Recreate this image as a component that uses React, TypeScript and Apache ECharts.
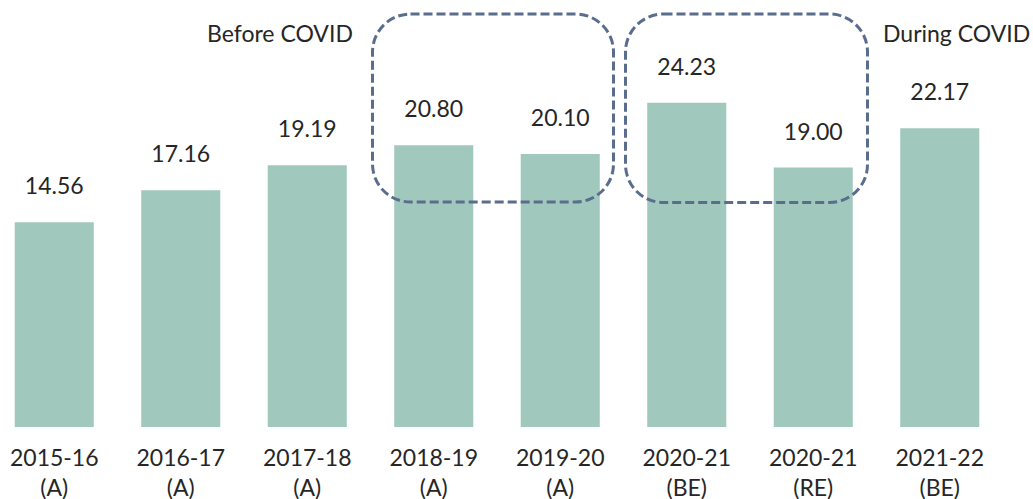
import React, { useEffect, useRef } from "react";
import * as echarts from "echarts";

const CATEGORIES = [
  "2015-16\n(A)",
  "2016-17\n(A)",
  "2017-18\n(A)",
  "2018-19\n(A)",
  "2019-20\n(A)",
  "2020-21\n(BE)",
  "2020-21\n(RE)",
  "2021-22\n(BE)",
];
const VALUES = [14.56, 17.16, 19.19, 20.8, 20.1, 24.23, 19.0, 22.17];
const GROUP_LABELS = ["Before COVID", "During COVID"];

const Y_MIN = -2;
const Y_MAX = 26;
const BAR_COLOR = "#a0c8bd";
const TEXT_COLOR = "#262626";
const BOX_COLOR = "#5a6d8d";
const FONT = "Lato";
const SHIFT = 9; // container is offset left by this amount

export default function App() {
  const ref = useRef<HTMLDivElement>(null);
  useEffect(() => {
    if (!ref.current) return;
    const chart = echarts.init(ref.current, undefined, { renderer: "svg" });
    chart.setOption({
      animation: false,
      backgroundColor: "#ffffff",
      grid: {
        left: 0,
        right: 30,
        top: 81,
        bottom: 72,
        containLabel: false,
        outerBoundsMode: "none",
      },
      xAxis: {
        type: "category",
        data: CATEGORIES,
        axisLine: { show: false },
        axisTick: { show: false },
        axisLabel: {
          color: TEXT_COLOR,
          fontFamily: FONT,
          fontSize: 23,
          lineHeight: 30,
          margin: 15,
          interval: 0,
        },
      },
      yAxis: {
        type: "value",
        min: Y_MIN,
        max: Y_MAX,
        show: false,
        splitLine: { show: false },
      },
      series: [
        {
          type: "custom",
          z: 2,
          data: VALUES.map((v, i) => [i, v]),
          renderItem: (params: any, api: any) => {
            const xv = api.value(0);
            const yv = api.value(1);
            const top = api.coord([xv, yv]);
            const base = api.coord([xv, Y_MIN]);
            const w = api.size([1, 0])[0] * 0.625;
            return {
              type: "group",
              children: [
                {
                  type: "rect",
                  shape: { x: top[0] - w / 2, y: top[1], width: w, height: base[1] - top[1] },
                  style: { fill: BAR_COLOR },
                },
                {
                  type: "text",
                  x: top[0],
                  y: top[1] - 37,
                  style: {
                    text: Number(yv).toFixed(2),
                    fill: TEXT_COLOR,
                    font: `23px ${FONT}`,
                    align: "center",
                    verticalAlign: "middle",
                    textAlign: "center",
                    textVerticalAlign: "middle",
                  },
                },
              ],
            };
          },
        },
      ],
      graphic: [
        {
          type: "rect",
          z: 100,
          shape: { x: 372.5 + SHIFT, y: 14, width: 241, height: 188, r: 38 },
          style: { fill: "none", stroke: BOX_COLOR, lineWidth: 3, lineDash: [9, 4] },
        },
        {
          type: "rect",
          z: 100,
          shape: { x: 625.5 + SHIFT, y: 14, width: 242, height: 188.5, r: 38 },
          style: { fill: "none", stroke: BOX_COLOR, lineWidth: 3, lineDash: [9, 4] },
        },
        {
          type: "text",
          z: 100,
          x: 207 + SHIFT,
          y: 33,
          style: {
            text: GROUP_LABELS[0],
            fill: TEXT_COLOR,
            font: `23px ${FONT}`,
            textAlign: "left",
            textVerticalAlign: "middle",
          },
        },
        {
          type: "text",
          z: 100,
          x: 883 + SHIFT,
          y: 33,
          style: {
            text: GROUP_LABELS[1],
            fill: TEXT_COLOR,
            font: `23px ${FONT}`,
            textAlign: "left",
            textVerticalAlign: "middle",
          },
        },
      ],
    });
    return () => chart.dispose();
  }, []);
  return (
    <div style={{ position: "fixed", left: 0, top: 0, width: 1033, height: 499, overflow: "hidden", background: "#fff" }}>
      <div
        ref={ref}
        style={{ position: "absolute", left: -SHIFT, top: 0, width: 1033 + SHIFT, height: 499 }}
      />
    </div>
  );
}
